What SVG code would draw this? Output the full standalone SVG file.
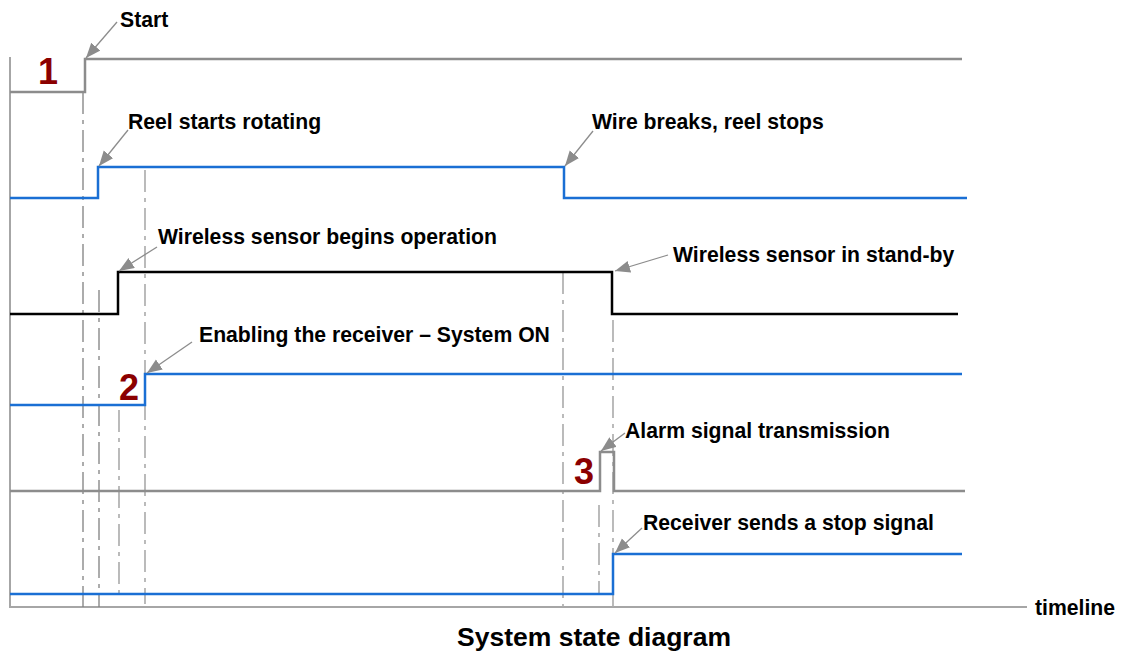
<svg xmlns="http://www.w3.org/2000/svg" width="1121" height="657" viewBox="0 0 1121 657">
<style>
.sig{fill:none;stroke-width:2.5;stroke-linejoin:miter}
.gray{stroke:#8c8c8c}
.blue{stroke:#1a6fd4}
.black{stroke:#000}
.guide{fill:none;stroke:#808080;stroke-width:1.3;stroke-dasharray:22 6 4 6}
.guide2{fill:none;stroke:#aaaaaa;stroke-width:1.6;stroke-dasharray:22 6 4 6}
.arr{stroke:#8c8c8c;stroke-width:1.3;fill:none;marker-end:url(#ah)}
.lbl{font-family:"Liberation Sans",Arial,sans-serif;font-weight:bold;font-size:21.2px;fill:#000}
.num{font-family:"Liberation Sans",Arial,sans-serif;font-weight:bold;font-size:36px;fill:#8b0000}
.axis{fill:none;stroke:#a6a6a6;stroke-width:2}
</style>
<defs>
<marker id="ah" markerUnits="userSpaceOnUse" markerWidth="16" markerHeight="14" refX="15" refY="6" orient="auto">
<path d="M0,0 L15,6 L0,12 Z" fill="#8c8c8c"/>
</marker>
</defs>
<rect width="1121" height="657" fill="#fff"/>
<g id="axes">
<path class="axis" d="M10,57 V607 H1027"/>
</g>
<g id="guides">
<path class="guide" d="M83,92 V607"/>
<path class="guide" d="M99,290 V607"/>
<path class="guide2" d="M119,410 V593"/>
<path class="guide2" d="M145,170 V604"/>
<path class="guide2" d="M563,272 V607"/>
<path class="guide2" d="M613,320 V607"/>
<path class="guide2" d="M599,505 V594"/>
</g>
<g id="signal-start">
<path class="sig gray" d="M10,92 H85 V59 H962"/>
</g>
<g id="signal-reel">
<path class="sig blue" d="M10,198 H98 V167 H564 V198 H967"/>
</g>
<g id="signal-sensor">
<path class="sig black" d="M10,314 H118 V272 H612 V314 H958"/>
</g>
<g id="signal-receiver">
<path class="sig blue" d="M10,405 H145 V374 H962"/>
</g>
<g id="signal-alarm">
<path class="sig gray" d="M10,491 H600 V452 H614 V491 H965"/>
</g>
<g id="signal-stop">
<path class="sig blue" d="M10,594 H613 V554 H962"/>
</g>
<g id="connectors">
<line class="arr" x1="117" y1="22" x2="86" y2="58"/>
<line class="arr" x1="128" y1="130" x2="99" y2="166"/>
<line class="arr" x1="593" y1="131" x2="565" y2="166"/>
<line class="arr" x1="157" y1="247" x2="119" y2="271"/>
<line class="arr" x1="668" y1="255" x2="615" y2="271"/>
<line class="arr" x1="192" y1="342" x2="147" y2="373"/>
<line class="arr" x1="625" y1="433" x2="601" y2="451"/>
<line class="arr" x1="642" y1="528" x2="615" y2="553"/>
</g>
<g id="labels">
<text class="lbl" x="120" y="27">Start</text>
<text class="lbl" x="128" y="129">Reel starts rotating</text>
<text class="lbl" x="592" y="129">Wire breaks, reel stops</text>
<text class="lbl" x="158" y="244">Wireless sensor begins operation</text>
<text class="lbl" x="673" y="262">Wireless sensor in stand-by</text>
<text class="lbl" x="199" y="342">Enabling the receiver – System ON</text>
<text class="lbl" x="625" y="438">Alarm signal transmission</text>
<text class="lbl" x="643" y="530">Receiver sends a stop signal</text>
<text class="lbl" x="1035" y="615">timeline</text>
<text class="lbl" x="594" y="646" text-anchor="middle" style="font-size:26.5px">System state diagram</text>
</g>
<g id="numbers">
<text class="num" x="38" y="84">1</text>
<text class="num" x="119" y="400">2</text>
<text class="num" x="574" y="484">3</text>
</g>
</svg>
